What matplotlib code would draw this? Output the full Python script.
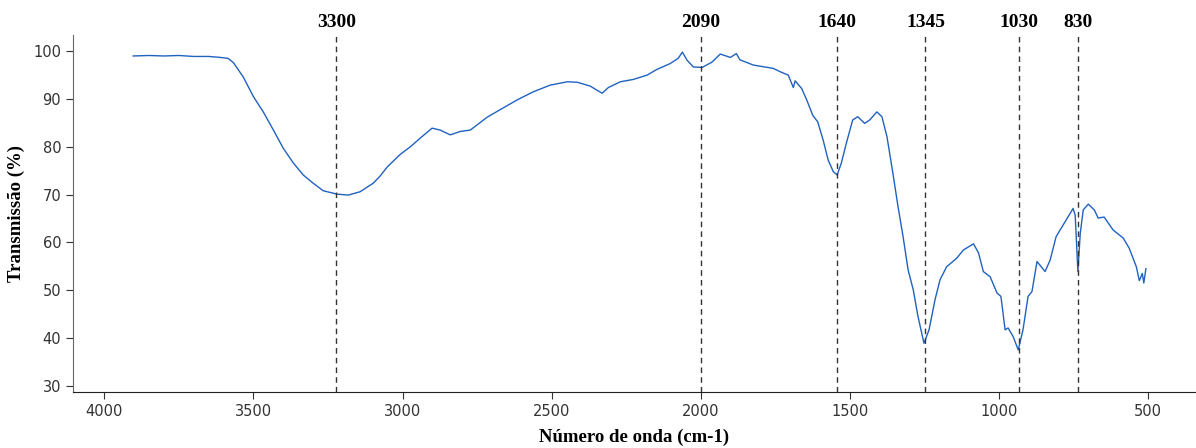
import matplotlib.pyplot as plt

# spectrum (wavenumber cm-1, transmission %)
wavenumber = [3903, 3850, 3800, 3750, 3700, 3650, 3611, 3585, 3567, 3534, 3500, 3467,
              3433, 3400, 3366, 3333, 3300, 3266, 3220, 3182, 3142, 3098, 3075, 3051,
              3008, 2974, 2941, 2901, 2874, 2840, 2807, 2773, 2716, 2672, 2616, 2562,
              2505, 2448, 2414, 2371, 2331, 2310, 2270, 2226, 2180, 2147, 2103, 2076,
              2062, 2046, 2025, 1996, 1963, 1935, 1901, 1881, 1869, 1824, 1757, 1734,
              1707, 1690, 1684, 1662, 1645, 1625, 1608, 1590, 1573, 1556, 1543, 1529,
              1512, 1491, 1474, 1451, 1434, 1410, 1393, 1376, 1355, 1339, 1322, 1305,
              1288, 1272, 1252, 1235, 1215, 1198, 1176, 1142, 1120, 1086, 1069, 1053,
              1030, 1007, 994, 980, 970, 953, 936, 920, 903, 890, 873, 846,
              829, 809, 782, 752, 745, 736, 728, 718, 701, 681, 668, 648,
              618, 584, 564, 540, 530, 520, 515, 508]
transmission = [99.0, 99.1, 99.0, 99.1, 98.9, 98.9, 98.7, 98.5, 97.6, 94.6, 90.5, 87.3,
                83.5, 79.7, 76.6, 74.1, 72.4, 70.8, 70.1, 69.9, 70.6, 72.4, 73.9, 75.8,
                78.4, 80.0, 81.8, 83.9, 83.5, 82.5, 83.2, 83.5, 86.2, 87.8, 89.8, 91.5,
                92.9, 93.6, 93.5, 92.7, 91.2, 92.4, 93.6, 94.1, 95.0, 96.2, 97.4, 98.5,
                99.8, 98.1, 96.7, 96.6, 97.7, 99.4, 98.7, 99.5, 98.2, 97.1, 96.4, 95.7,
                95.0, 92.4, 93.8, 92.2, 89.8, 86.6, 85.2, 81.4, 77.2, 74.8, 74.1, 76.6,
                80.8, 85.6, 86.3, 84.9, 85.6, 87.3, 86.3, 82.1, 74.0, 67.5, 61.2, 54.2,
                50.1, 44.5, 38.9, 41.7, 48.0, 52.2, 54.9, 56.7, 58.4, 59.7, 57.8, 53.9,
                52.8, 49.4, 48.7, 41.7, 42.1, 40.3, 37.5, 41.7, 48.7, 49.7, 56.0, 53.9,
                56.3, 61.2, 64.0, 67.1, 65.7, 53.9, 61.9, 66.8, 68.0, 66.8, 65.1, 65.3,
                62.6, 60.9, 58.8, 54.9, 52.0, 53.5, 51.5, 54.5]

# marked bands: label text and where the dashed line sits on the axis
band_labels = ['3300', '2090', '1640', '1345', '1030', '830']
band_pos = [3222, 2000, 1543, 1247, 935, 736]

fig = plt.figure(figsize=(11.96, 4.48), dpi=100)
ax = fig.add_axes([0.061, 0.125, 0.939, 0.797])

ax.plot(wavenumber, transmission, color='#1f62c0', lw=1.0)

for lab, pos in zip(band_labels, band_pos):
    ax.axvline(pos, color='#333333', ls=(0, (4, 3)), lw=1.0)
    ax.text(pos, 1.012, lab, transform=ax.get_xaxis_transform(), ha='center', va='bottom',
            fontsize=14, fontweight='bold', family='Liberation Serif')

ax.set_xlim(4105, 340)
ax.set_ylim(28.7, 103.4)
ax.set_xticks([4000, 3500, 3000, 2500, 2000, 1500, 1000, 500])
ax.set_yticks([30, 40, 50, 60, 70, 80, 90, 100])

for s in ['top', 'right']:
    ax.spines[s].set_visible(False)
ax.spines['left'].set_color('#666666')
ax.spines['bottom'].set_color('#222222')
ax.tick_params(direction='out', length=5, labelsize=10.5, colors='#333333')

ax.set_xlabel('Número de onda (cm-1)', fontsize=13.5, fontweight='bold',
              family='Liberation Serif', labelpad=7)
ax.set_ylabel('Transmissão (%)', fontsize=13.5, fontweight='bold',
              family='Liberation Serif', labelpad=6)

fig.savefig('out.png', dpi=100)
